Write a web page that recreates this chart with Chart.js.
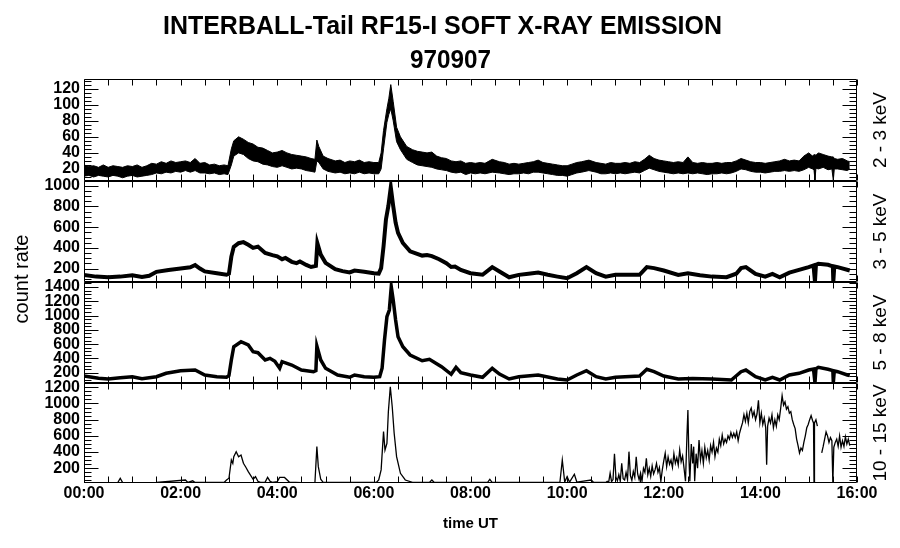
<!DOCTYPE html>
<html>
<head>
<meta charset="utf-8">
<title>INTERBALL-Tail RF15-I soft X-ray emission</title>
<script src="https://cdn.jsdelivr.net/npm/chart.js@4.4.0/dist/chart.umd.min.js"></script>
<style>
    html, body { margin: 0; padding: 0; background: #fff; }
    #page { position: relative; width: 900px; height: 548px; }
    #page canvas { position: absolute; left: 0; top: 0; }
</style>
</head>
<body>
<div id="page">
    <canvas id="panel1" width="900" height="548"></canvas>
    <canvas id="panel2" width="900" height="548"></canvas>
    <canvas id="panel3" width="900" height="548"></canvas>
    <canvas id="panel4" width="900" height="548"></canvas>
</div>
<script>
// ---- data (hours UT, count rate) ----

// 2 - 3 keV : noisy band, lower and upper edge
var t1 = [0, 0.1, 0.2, 0.3, 0.4, 0.5, 0.6, 0.7, 0.8, 0.9,
    1.0, 1.1, 1.2, 1.3, 1.4, 1.5, 1.6, 1.7, 1.8, 1.9,
    2.0, 2.1, 2.2, 2.3, 2.4, 2.5, 2.6, 2.7, 2.8, 2.9,
    2.98, 3.05, 3.1, 3.2, 3.3, 3.4, 3.5, 3.6, 3.7, 3.8,
    3.9, 4.0, 4.1, 4.2, 4.3, 4.4, 4.5, 4.6, 4.7, 4.78,
    4.82, 4.86, 4.95, 5.05, 5.2, 5.3, 5.4, 5.5, 5.6, 5.7,
    5.8, 5.9, 6.0, 6.1, 6.15, 6.2, 6.27, 6.31, 6.35, 6.4,
    6.47, 6.55, 6.68, 6.8, 6.9, 7.0, 7.1, 7.2, 7.3, 7.4,
    7.5, 7.6, 7.7, 7.8, 7.9, 8.0, 8.1, 8.2, 8.3, 8.45,
    8.6, 8.7, 8.8, 8.9, 9.0, 9.1, 9.2, 9.3, 9.4, 9.5,
    9.6, 9.7, 9.8, 9.9, 10.0, 10.1, 10.2, 10.3, 10.45, 10.6,
    10.7, 10.8, 10.9, 11.0, 11.1, 11.2, 11.3, 11.4, 11.5, 11.6,
    11.7, 11.8, 11.9, 12.0, 12.1, 12.2, 12.3, 12.4, 12.5, 12.6,
    12.7, 12.8, 12.9, 13.0, 13.1, 13.2, 13.3, 13.4, 13.5, 13.6,
    13.7, 13.8, 13.9, 14.0, 14.1, 14.2, 14.3, 14.4, 14.5, 14.6,
    14.7, 14.8, 14.9, 15.0, 15.08, 15.11, 15.13, 15.15, 15.2, 15.3,
    15.4, 15.48, 15.51, 15.53, 15.6, 15.7, 15.8, 15.85];
var lo1 = [11, 12, 10, 12, 11, 10, 12, 11, 9, 11,
    12, 10, 11, 12, 13, 15, 14, 16, 15, 17,
    16, 18, 16, 18, 15, 15, 14, 15, 13, 14,
    13, 25, 36, 40, 38, 33, 30, 29, 26, 25,
    23, 22, 24, 22, 20, 21, 20, 18, 17, 16,
    30, 28, 20, 17, 15, 16, 14, 15, 14, 16,
    14, 15, 14, 14, 20, 45, 78, 88, 95, 80,
    54, 44, 32, 28, 25, 24, 23, 22, 20, 19,
    18, 16, 15, 16, 13, 15, 14, 15, 14, 16,
    15, 14, 13, 14, 14, 15, 14, 16, 16, 15,
    14, 13, 12, 12, 11, 13, 15, 16, 18, 16,
    14, 14, 15, 14, 15, 14, 15, 16, 15, 18,
    21, 19, 17, 16, 15, 14, 15, 14, 15, 14,
    15, 14, 13, 14, 14, 15, 14, 15, 17, 20,
    19, 17, 16, 16, 15, 16, 17, 17, 18, 17,
    18, 17, 19, 22, 20, 19, 6, 21, 20, 22,
    19, 20, 6, 20, 20, 19, 18, 20];
var hi1 = [25, 23, 24, 22, 25, 22, 24, 23, 22, 24,
    23, 25, 22, 24, 27, 26, 29, 27, 30, 28,
    29, 30, 28, 33, 27, 28, 25, 26, 24, 25,
    24, 45, 55, 60, 57, 53, 51, 47, 46, 43,
    40, 41, 43, 40, 38, 37, 36, 35, 33, 32,
    56, 48, 36, 33, 30, 31, 28, 30, 29, 31,
    28, 29, 28, 28, 40, 68, 95, 108, 125, 104,
    72, 60, 48, 44, 42, 41, 40, 41, 36, 34,
    33, 30, 29, 30, 27, 28, 27, 28, 27, 32,
    29, 28, 26, 27, 26, 27, 28, 29, 31, 28,
    27, 26, 25, 24, 24, 26, 28, 29, 31, 28,
    27, 26, 28, 27, 27, 28, 27, 29, 28, 32,
    37, 33, 31, 30, 29, 28, 29, 28, 35, 28,
    27, 28, 27, 27, 28, 27, 28, 28, 30, 33,
    31, 29, 28, 28, 27, 28, 29, 30, 32, 30,
    31, 30, 36, 40, 36, 38, 37, 37, 40, 38,
    36, 35, 35, 33, 32, 33, 30, 29];

// 3 - 5 keV
var t2 = [0, 0.25, 0.5, 0.75, 1.0, 1.2, 1.35, 1.5, 1.75, 2.0,
    2.2, 2.3, 2.4, 2.5, 2.75, 2.95, 3.0, 3.05, 3.1, 3.2,
    3.3, 3.4, 3.5, 3.6, 3.75, 3.9, 4.0, 4.1, 4.17, 4.3,
    4.4, 4.47, 4.6, 4.7, 4.8, 4.83, 4.9, 5.0, 5.2, 5.35,
    5.5, 5.6, 5.8, 6.0, 6.1, 6.15, 6.2, 6.25, 6.3, 6.35,
    6.4, 6.45, 6.5, 6.6, 6.75, 7.0, 7.1, 7.2, 7.35, 7.5,
    7.6, 7.68, 7.8, 8.0, 8.25, 8.45, 8.6, 8.8, 9.0, 9.2,
    9.4, 9.6, 9.8, 10.0, 10.2, 10.4, 10.6, 10.8, 11.0, 11.3,
    11.5, 11.65, 11.8, 12.0, 12.3, 12.5, 12.75, 13.0, 13.3, 13.5,
    13.6, 13.7, 13.9, 14.1, 14.25, 14.4, 14.6, 14.8, 15.0, 15.1,
    15.13, 15.15, 15.2, 15.4, 15.5, 15.51, 15.53, 15.6, 15.85];
var v2 = [138, 122, 116, 122, 136, 118, 130, 168, 186, 200,
    212, 234, 200, 172, 155, 140, 150, 315, 410, 445,
    455, 430, 400, 412, 350, 330, 318, 290, 302, 265,
    252, 268, 235, 215, 225, 445, 335, 255, 195, 175,
    162, 180, 170, 155, 150, 204, 414, 675, 805, 985,
    805, 643, 545, 447, 366, 325, 330, 320, 290, 252,
    215, 220, 187, 155, 140, 214, 171, 116, 139, 150,
    161, 140, 122, 106, 155, 214, 155, 122, 139, 139,
    139, 214, 204, 181, 139, 155, 135, 122, 116, 150,
    204, 214, 148, 122, 148, 116, 161, 187, 214, 230,
    75, 235, 246, 236, 220, 75, 220, 214, 181];

// 5 - 8 keV
var t3 = [0, 0.3, 0.5, 0.75, 1.0, 1.2, 1.5, 1.7, 2.0, 2.3,
    2.5, 2.75, 2.95, 3.0, 3.05, 3.1, 3.25, 3.4, 3.5, 3.6,
    3.75, 3.85, 3.95, 4.05, 4.1, 4.3, 4.5, 4.75, 4.8, 4.82,
    4.9, 5.0, 5.25, 5.5, 5.6, 5.8, 6.0, 6.12, 6.17, 6.22,
    6.27, 6.32, 6.36, 6.4, 6.45, 6.5, 6.6, 6.75, 7.0, 7.15,
    7.4, 7.6, 7.7, 7.8, 8.0, 8.25, 8.45, 8.6, 8.8, 9.0,
    9.4, 9.8, 10.0, 10.2, 10.4, 10.6, 10.8, 11.0, 11.5, 11.65,
    11.8, 12.0, 12.3, 12.6, 13.0, 13.4, 13.6, 13.7, 13.9, 14.1,
    14.25, 14.4, 14.6, 14.8, 15.0, 15.1, 15.13, 15.15, 15.2, 15.4,
    15.5, 15.51, 15.53, 15.6, 15.8, 15.85];
var v3 = [154, 122, 112, 128, 144, 117, 144, 192, 228, 238,
    168, 144, 136, 160, 378, 564, 634, 588, 494, 480,
    378, 401, 360, 262, 354, 308, 238, 214, 230, 574,
    378, 262, 168, 136, 168, 144, 136, 144, 262, 658,
    984, 1078, 1404, 1218, 938, 704, 564, 448, 368, 388,
    284, 178, 276, 200, 168, 136, 262, 182, 112, 144,
    168, 112, 98, 168, 228, 144, 112, 136, 154, 248,
    214, 154, 112, 120, 112, 98, 214, 238, 144, 98,
    136, 98, 168, 192, 238, 250, 60, 255, 276, 248,
    230, 60, 225, 214, 168, 160];

// 10 - 15 keV (null = data gap)
var t4 = [0, 0.7, 0.75, 0.8, 1.5, 2.1, 2.15, 2.25, 2.3, 2.9,
    2.95, 3.0, 3.05, 3.08, 3.1, 3.15, 3.2, 3.25, 3.3, 3.35,
    3.4, 3.5, 3.55, 3.6, 3.65, 3.75, 3.8, 3.85, 3.9, 4.0,
    4.05, 4.15, 4.25, 4.5, 4.78, 4.82, 4.85, 4.9, 4.95, 6.05,
    6.1, 6.15, 6.2, 6.23, 6.27, 6.3, 6.34, 6.38, 6.42, 6.47,
    6.55, 6.65, 6.8, 7.15, 7.2, 7.25, 8.35, 8.4, 8.45, 9.85,
    9.9, 9.95, 10.0, 10.05, 10.15, 10.2, 10.5, 10.55,
    10.80, 10.83, 10.86, 10.89, 10.92, 10.95, 10.98, 11.01, 11.04, 11.07,
    11.10, 11.13, 11.16, 11.19, 11.22, 11.25, 11.28, 11.31, 11.34, 11.37,
    11.40, 11.43, 11.46, 11.49, 11.52, 11.55, 11.58, 11.61, 11.64, 11.67,
    11.70, 11.73, 11.76, 11.79, 11.82, 11.85, 11.88, 11.91, 11.94, 11.97,
    12.00, 12.03, 12.06, 12.09, 12.12, 12.15, 12.18, 12.21, 12.24, 12.27,
    12.30, 12.33, 12.36, 12.39, 12.42, 12.45, 12.48, 12.50, 12.52, 12.54,
    12.57, 12.60, 12.62, 12.64, 12.67, 12.70, 12.73, 12.76, 12.79, 12.82,
    12.85, 12.88, 12.91, 12.94, 12.97, 13.00, 13.03, 13.06, 13.09, 13.12,
    13.15, 13.18, 13.21, 13.24, 13.27, 13.30, 13.33, 13.36, 13.39, 13.42,
    13.45, 13.48, 13.51, 13.54, 13.57, 13.60, 13.63, 13.66, 13.69, 13.72,
    13.75, 13.78, 13.81, 13.84, 13.87, 13.90, 13.93, 13.96, 13.99, 14.02,
    14.05, 14.08, 14.11, 14.13, 14.15, 14.18, 14.21, 14.24, 14.27, 14.30,
    14.33, 14.36, 14.39, 14.42, 14.45, 14.48, 14.51, 14.54, 14.57, 14.60,
    14.63, 14.66, 14.69, 14.72, 14.75, 14.78, 14.81, 14.84, 14.87, 14.90,
    14.93, 14.96, 14.99, 15.02, 15.05, 15.08, 15.10, 15.11, 15.12, 15.15,
    15.18, 15.20, 15.27, 15.30, 15.33, 15.36, 15.39, 15.42, 15.45, 15.48,
    15.50, 15.52, 15.55, 15.58, 15.61, 15.64, 15.67, 15.70, 15.73, 15.76,
    15.79, 15.82, 15.85];
var v4 = [22, 24, 77, 22, 24, 55, 25, 45, 24, 24,
    55, 77, 302, 260, 343, 405, 343, 364, 262, 212,
    158, 64, 96, 40, 26, 30, 87, 40, 26, 35,
    87, 87, 30, 22, 24, 467, 220, 64, 26, 24,
    55, 180, 652, 425, 508, 899, 1207, 960, 632, 343,
    138, 55, 26, 24, 55, 24, 24, 64, 24, 24,
    302, 30, 96, 28, 126, 30, 55, 25,
    25, 40, 28, 138, 35, 60, 380, 90, 45, 120,
    40, 262, 70, 55, 150, 60, 405, 110, 50, 160,
    90, 343, 130, 60, 140, 40, 200, 150, 323, 120,
    200, 100, 230, 130, 180, 260, 150, 210, 40, 180,
    290, 385, 220, 340, 250, 302, 210, 380, 262, 330,
    240, 426, 280, 350, 200, 40, 600, 920, 350, 40,
    500, 260, 467, 40, 380, 200, 549, 300, 420, 262,
    460, 330, 420, 300, 480, 400, 520, 343, 450, 400,
    560, 480, 610, 500, 560, 520, 600, 560, 640, 580,
    632, 580, 650, 540, 636, 700, 760, 862, 780, 880,
    760, 900, 944, 840, 900, 800, 870, 1040, 760, 880,
    740, 820, 700, 245, 720, 820, 760, 860, 700, 800,
    720, 860, 800, 940, 1096, 980, 1020, 930, 960, 880,
    900, 800, 740, 690, 560, 480, 389, 450, 420, 520,
    600, 700, 740, 800, 850, 790, 760, 20, 760, 800,
    720, null, 390, 470, 560, 650, 600, 520, 580, 540,
    20, 460, 520, 560, 470, 600, 460, 540, 470, 590,
    500, 560, 480];

// tick labels
var hourTicks = [0, 2, 4, 6, 8, 10, 12, 14, 16];
var yTicks1 = [20, 40, 60, 80, 100, 120];
var yTicks2 = [200, 400, 600, 800, 1000];
var yTicks3 = [200, 400, 600, 800, 1000, 1200, 1400];
var yTicks4 = [200, 400, 600, 800, 1000, 1200];

// ---- layout ----
var FONT = '"Liberation Sans", Arial, Helvetica, sans-serif';
var PLOT_LEFT = 84, PLOT_RIGHT = 857, PAGE_H = 548;

function pts(t, v) {
    return t.map(function (x, i) { return { x: x, y: v[i] }; });
}

var panels = [
    { id: 'panel1', label: '2 - 3 keV', top: 79, bottom: 181, min: 5, max: 132, minor: 5, ticks: yTicks1,
      datasets: [
          { data: pts(t1, lo1), borderColor: '#000', borderWidth: 1, fill: false },
          { data: pts(t1, hi1), borderColor: '#000', borderWidth: 1, fill: '-1', backgroundColor: '#000' }
      ] },
    { id: 'panel2', label: '3 - 5 keV', top: 181, bottom: 282, min: 70, max: 1046, minor: 50, ticks: yTicks2,
      datasets: [{ data: pts(t2, v2), borderColor: '#000', borderWidth: 4, fill: false }] },
    { id: 'panel3', label: '5 - 8 keV', top: 282, bottom: 383, min: 56, max: 1470, minor: 50, ticks: yTicks3,
      datasets: [{ data: pts(t3, v3), borderColor: '#000', borderWidth: 3.5, fill: false }] },
    { id: 'panel4', label: '10 - 15 keV', top: 383, bottom: 483, min: 18, max: 1253, minor: 50, ticks: yTicks4,
      datasets: [{ data: pts(t4, v4), borderColor: '#000', borderWidth: 1.3, fill: false, spanGaps: false }] }
];

// squeeze a text to a given width (IDL title font is narrow)
function drawSqueezed(ctx, text, cx, cy, font, width) {
    ctx.font = font;
    var w = ctx.measureText(text).width;
    ctx.save();
    ctx.translate(cx, cy);
    ctx.scale(width / w, 1);
    ctx.textAlign = 'center';
    ctx.textBaseline = 'middle';
    ctx.fillText(text, 0, 0);
    ctx.restore();
}

function makeFrame(p, withTitle) {
    return {
        id: 'frame',
        afterDraw: function (chart) {
            var ctx = chart.ctx, a = chart.chartArea;
            var xs = chart.scales.x, ys = chart.scales.y;
            var L = a.left + 0.5, R = a.right - 0.5, T = a.top + 0.5, B = a.bottom - 0.5;
            ctx.save();
            ctx.strokeStyle = '#000';
            ctx.lineWidth = 1;
            ctx.beginPath();
            ctx.rect(L, T, R - L, B - T);
            // half hour ticks, top and bottom, pointing in
            for (var h = 0; h <= 16; h += 0.5) {
                var px = Math.round(xs.getPixelForValue(h)) + 0.5;
                ctx.moveTo(px, T); ctx.lineTo(px, T + 6);
                ctx.moveTo(px, B); ctx.lineTo(px, B - 6);
            }
            // count ticks both sides
            var v0 = Math.ceil(p.min / p.minor) * p.minor;
            for (var v = v0; v <= p.max; v += p.minor) {
                var py = Math.round(ys.getPixelForValue(v)) + 0.5;
                var len = p.ticks.indexOf(v) >= 0 ? 14 : 7;
                ctx.moveTo(L, py); ctx.lineTo(L + len, py);
                ctx.moveTo(R, py); ctx.lineTo(R - len, py);
            }
            ctx.stroke();

            ctx.fillStyle = '#000';
            ctx.textAlign = 'center';
            ctx.textBaseline = 'middle';
            ctx.save();
            ctx.translate(881, (a.top + a.bottom) / 2);
            ctx.rotate(-Math.PI / 2);
            ctx.font = '19px ' + FONT;
            ctx.fillText(p.label, 0, 0);
            ctx.restore();

            if (withTitle) {
                drawSqueezed(ctx, 'INTERBALL-Tail RF15-I SOFT X-RAY EMISSION', 442.5, 27, 'bold 25px ' + FONT, 559);
                drawSqueezed(ctx, '970907', 450.5, 61, 'bold 25px ' + FONT, 81);
                ctx.save();
                ctx.translate(22, 279);
                ctx.rotate(-Math.PI / 2);
                ctx.font = '20px ' + FONT;
                ctx.fillText('count rate', 0, 0);
                ctx.restore();
            }
            ctx.restore();
        }
    };
}

var tickFont = { family: FONT, size: 16, weight: 'bold' };

panels.forEach(function (p, i) {
    var last = i === panels.length - 1;
    var xAxis = { type: 'linear', min: 0, max: 16, display: false };
    var padBottom = PAGE_H - p.bottom;
    if (last) {
        padBottom = 12;
        xAxis = {
            type: 'linear', min: 0, max: 16,
            afterFit: function (s) { s.height = PAGE_H - p.bottom - 12; },
            afterBuildTicks: function (s) {
                s.ticks = hourTicks.map(function (v) { return { value: v }; });
            },
            ticks: {
                color: '#000', font: tickFont, padding: 1, maxRotation: 0, autoSkip: false,
                callback: function (v) { return (v < 10 ? '0' : '') + v + ':00'; }
            },
            grid: { display: false, drawTicks: false },
            border: { display: false },
            title: { display: true, text: 'time UT', color: '#000', font: { family: FONT, size: 15, weight: 'bold' }, padding: { top: 0, bottom: 3 } }
        };
    }

    new Chart(document.getElementById(p.id), {
        type: 'line',
        data: { datasets: p.datasets },
        options: {
            responsive: false,
            animation: false,
            devicePixelRatio: 1,
            layout: { padding: { top: p.top, bottom: padBottom, left: 0, right: 900 - PLOT_RIGHT } },
            elements: { point: { radius: 0 }, line: { tension: 0 } },
            plugins: { legend: { display: false }, tooltip: { enabled: false } },
            scales: {
                x: xAxis,
                y: {
                    type: 'linear', min: p.min, max: p.max,
                    afterFit: function (s) { s.width = PLOT_LEFT; },
                    afterBuildTicks: function (s) {
                        s.ticks = p.ticks.map(function (v) { return { value: v }; });
                    },
                    ticks: {
                        color: '#000', font: tickFont, padding: 4, autoSkip: false,
                        callback: function (v) { return String(v); }
                    },
                    grid: { display: false, drawTicks: false },
                    border: { display: false }
                }
            }
        },
        plugins: [makeFrame(p, i === 0)]
    });
});
</script>
</body>
</html>
